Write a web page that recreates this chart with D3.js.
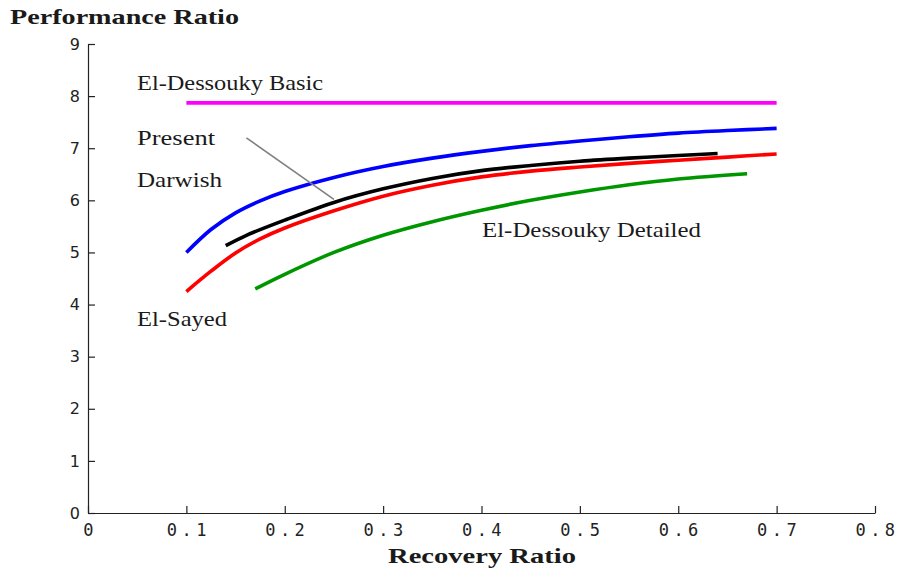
<!DOCTYPE html>
<html>
<head>
<meta charset="utf-8">
<script src="https://cdn.jsdelivr.net/npm/d3@7"></script>
<style>
  body { margin: 0; background: #fff; }
  .serif { font-family: "Liberation Serif", "DejaVu Serif", serif; fill: #1a1a1a; }
</style>
</head>
<body>
<div id="chart"></div>
<script>
// values
var xTicks = [0, 0.1, 0.2, 0.3, 0.4, 0.5, 0.6, 0.7, 0.8];
var yTicks = [0, 1, 2, 3, 4, 5, 6, 7, 8, 9];

var basicX = [0.1, 0.7];
var basicY = [7.87, 7.87];

var darwishX = [0.10, 0.125, 0.15, 0.175, 0.20, 0.25, 0.30, 0.35, 0.40, 0.45, 0.50, 0.55, 0.60, 0.65, 0.70];
var darwishY = [5.00, 5.44, 5.76, 5.99, 6.17, 6.44, 6.65, 6.81, 6.94, 7.05, 7.14, 7.22, 7.29, 7.34, 7.38];

var presentX = [0.14, 0.16, 0.20, 0.25, 0.30, 0.35, 0.40, 0.45, 0.50, 0.55, 0.60, 0.64];
var presentY = [5.13, 5.32, 5.62, 5.96, 6.22, 6.42, 6.57, 6.67, 6.75, 6.81, 6.86, 6.90];

var sayedX = [0.10, 0.125, 0.15, 0.175, 0.20, 0.25, 0.30, 0.35, 0.40, 0.45, 0.50, 0.55, 0.60, 0.65, 0.70];
var sayedY = [4.25, 4.64, 4.99, 5.26, 5.47, 5.80, 6.08, 6.29, 6.45, 6.56, 6.64, 6.71, 6.77, 6.83, 6.89];

var detailedX = [0.17, 0.20, 0.25, 0.30, 0.35, 0.40, 0.45, 0.50, 0.55, 0.60, 0.67];
var detailedY = [4.30, 4.58, 5.00, 5.33, 5.59, 5.81, 6.00, 6.16, 6.30, 6.41, 6.51];

// pointer from "Present" label to the black curve
var pointerX = [0.161, 0.250];
var pointerY = [7.20, 6.02];

var width = 899, height = 574;

var svg = d3.select("#chart").append("svg")
    .attr("width", width)
    .attr("height", height);

var x = d3.scaleLinear().domain([0, 0.8]).range([88, 875]);
var y = d3.scaleLinear().domain([0, 9]).range([513, 44]);

// axes
var xAxis = d3.axisBottom(x)
    .tickValues(xTicks)
    .tickFormat(function(d) { return d === 0 ? "0" : d3.format(".1f")(d); })
    .tickSizeInner(-7)
    .tickSizeOuter(0)
    .tickPadding(11);

var yAxis = d3.axisLeft(y)
    .tickValues(yTicks)
    .tickFormat(d3.format("d"))
    .tickSizeInner(-7)
    .tickSizeOuter(0)
    .tickPadding(8);

var gx = svg.append("g")
    .attr("transform", "translate(0," + y(0) + ")")
    .call(xAxis);
gx.selectAll("text")
    .attr("font-family", "'DejaVu Sans Mono', monospace")
    .attr("font-size", 17)
    .attr("fill", "#222")
    .style("letter-spacing", "4.5px")
    .attr("dx", "2px");

var gy = svg.append("g")
    .attr("transform", "translate(" + x(0) + ",0)")
    .call(yAxis);
gy.selectAll("text")
    .attr("font-family", "'DejaVu Sans', sans-serif")
    .attr("font-size", 16)
    .attr("fill", "#222");

svg.selectAll(".domain, .tick line").attr("stroke", "#222").attr("stroke-width", 1.2);

// curves
var line = d3.line()
    .x(function(d) { return x(d[0]); })
    .y(function(d) { return y(d[1]); })
    .curve(d3.curveCatmullRom.alpha(0.5));

var series = [
  { xs: basicX, ys: basicY, color: "#ff00ff" },
  { xs: darwishX, ys: darwishY, color: "#0000ff" },
  { xs: sayedX, ys: sayedY, color: "#ff0000" },
  { xs: detailedX, ys: detailedY, color: "#009600" },
  { xs: presentX, ys: presentY, color: "#000000" }
];

svg.selectAll("path.curve")
  .data(series)
  .enter().append("path")
    .attr("class", "curve")
    .attr("fill", "none")
    .attr("stroke", function(d) { return d.color; })
    .attr("stroke-width", 3.6)
    .attr("d", function(d) { return line(d3.zip(d.xs, d.ys)); });

svg.append("path")
    .attr("fill", "none")
    .attr("stroke", "#808080")
    .attr("stroke-width", 1.6)
    .attr("d", d3.line()(d3.zip(pointerX.map(x), pointerY.map(y))));

// curve labels (widths matched to the reference typeface)
var labels = [
  { text: "El-Dessouky Basic", x: 137, y: 90, w: 186 },
  { text: "Present", x: 137, y: 145, w: 78 },
  { text: "Darwish", x: 137, y: 187, w: 85 },
  { text: "El-Sayed", x: 137, y: 326, w: 90 },
  { text: "El-Dessouky Detailed", x: 482, y: 237, w: 219 }
];

svg.selectAll("text.lbl")
  .data(labels)
  .enter().append("text")
    .attr("class", "lbl serif")
    .attr("x", function(d) { return d.x; })
    .attr("y", function(d) { return d.y; })
    .attr("font-size", 22)
    .attr("textLength", function(d) { return d.w; })
    .attr("lengthAdjust", "spacingAndGlyphs")
    .text(function(d) { return d.text; });

// axis titles
svg.append("text")
    .attr("class", "serif")
    .attr("x", 10)
    .attr("y", 24)
    .attr("font-size", 22)
    .attr("font-weight", "bold")
    .attr("textLength", 229)
    .attr("lengthAdjust", "spacingAndGlyphs")
    .text("Performance Ratio");

svg.append("text")
    .attr("class", "serif")
    .attr("x", 388)
    .attr("y", 563)
    .attr("font-size", 22)
    .attr("font-weight", "bold")
    .attr("textLength", 188)
    .attr("lengthAdjust", "spacingAndGlyphs")
    .text("Recovery Ratio");
</script>
</body>
</html>
